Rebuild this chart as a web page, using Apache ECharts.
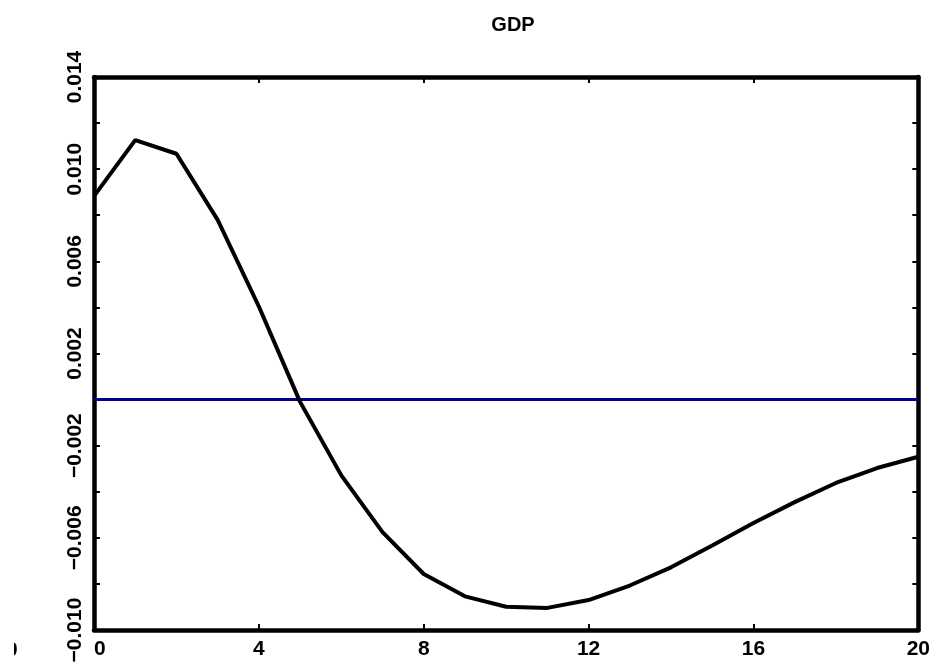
<!DOCTYPE html>
<html>
<head>
<meta charset="utf-8">
<script src="https://cdn.jsdelivr.net/npm/echarts@6/dist/echarts.min.js"></script>
<style>
html,body{margin:0;padding:0;background:#fff;}
#c{width:933px;height:669px;}
</style>
</head>
<body>
<div id="c"></div>
<script>
var title = 'GDP';
var periods = [0,1,2,3,4,5,6,7,8,9,10,11,12,13,14,15,16,17,18,19,20];
var gdp = [0.00883,0.01126,0.01067,0.00780,0.00404,-0.0001,-0.00329,-0.00575,-0.00757,-0.00854,-0.00899,-0.00904,-0.00870,-0.00807,-0.00728,-0.00633,-0.00536,-0.00445,-0.00362,-0.00297,-0.00248];
var zeroLevel = 0;
var yMin = -0.010, yMax = 0.014, yStep = 0.002;
var xMin = 0, xMax = 20, xStep = 4;

var FONT = '"Liberation Sans", Arial, sans-serif';
var chart = echarts.init(document.getElementById('c'));
var lineData = periods.map(function(p, i){ return [p, gdp[i]]; });
var zeroData = [[xMin, zeroLevel], [xMax, zeroLevel]];

function yFmt(v){
  var k = Math.round((v - yMin) / yStep);
  if (k % 2 !== 0) return '';
  return v.toFixed(3).replace('-', '\u2212');
}
var axisLineStyle = {show:true, onZero:false, lineStyle:{color:'#000', width:4.5}};
var tick = {show:true, inside:true, length:6, lineStyle:{color:'#000', width:2}};

chart.setOption({
  animation:false,
  backgroundColor:'#fff',
  title:{text:title, left:508, textAlign:'center', top:10,
    textStyle:{fontFamily:FONT, fontWeight:'bold', fontSize:20, color:'#000'}},
  grid:{left:94, right:11, top:77, bottom:39},
  xAxis:[
    {type:'value', min:xMin, max:xMax, interval:xStep, position:'bottom',
     axisLine:axisLineStyle, axisTick:tick, splitLine:{show:false},
     axisLabel:{fontFamily:FONT, fontWeight:'bold', fontSize:21, color:'#000', margin:9,
       alignMinLabel:'left'}},
    {type:'value', min:xMin, max:xMax, interval:xStep, position:'top',
     axisLine:axisLineStyle, axisTick:tick, splitLine:{show:false}, axisLabel:{show:false}}
  ],
  yAxis:[
    {type:'value', min:yMin, max:yMax, interval:yStep, position:'left',
     axisLine:axisLineStyle, axisTick:tick, splitLine:{show:false},
     axisLabel:{fontFamily:FONT, fontWeight:'bold', fontSize:21, color:'#000', rotate:90,
       margin:8, formatter:yFmt, showMinLabel:true, showMaxLabel:true}},
    {type:'value', min:yMin, max:yMax, interval:yStep, position:'right',
     axisLine:axisLineStyle, axisTick:tick, splitLine:{show:false}, axisLabel:{show:false}}
  ],
  graphic:[
    {type:'text', left:6, top:640, z:10,
     style:{text:'0', font:'bold 21px "Liberation Sans", Arial, sans-serif', fill:'#000'}},
    {type:'rect', left:0, top:635, z:11, shape:{width:14, height:30}, style:{fill:'#fff'}}
  ],
  series:[
    {type:'line', data:zeroData, symbol:'none', lineStyle:{color:'#00008b', width:3}, z:2},
    {type:'line', data:lineData, symbol:'none', lineStyle:{color:'#000', width:4}, z:3}
  ]
});
</script>
</body>
</html>
